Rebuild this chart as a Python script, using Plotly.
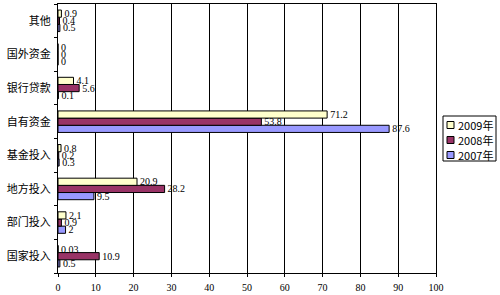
import plotly.graph_objects as go

categories = ["国家投入", "部门投入", "地方投入", "基金投入", "自有资金", "银行贷款", "国外资金", "其他"]
v2009 = [0.03, 2.1, 20.9, 0.8, 71.2, 4.1, 0, 0.9]
v2008 = [10.9, 0.9, 28.2, 0.2, 53.8, 5.6, 0, 0.4]
v2007 = [0.5, 2, 9.5, 0.3, 87.6, 0.1, 0, 0.5]
x_ticks = [0, 10, 20, 30, 40, 50, 60, 70, 80, 90, 100]

series = [
    ("2007年", v2007, "#9999FF"),
    ("2008年", v2008, "#993366"),
    ("2009年", v2009, "#FFFFCC"),
]

fig = go.Figure()
for name, vals, col in series:
    fig.add_trace(go.Bar(
        y=categories, x=vals, name=name, orientation="h",
        marker=dict(color=col, line=dict(color="black", width=1)),
        text=[str(v) for v in vals], textposition="outside",
        constraintext="none",
        textfont=dict(family="Liberation Serif", size=10, color="black"),
        cliponaxis=False,
    ))

# manual legend (paper coords) so the plot area keeps its width
L, R, T, B = 58, 436, 4, 273
W, H = 500, 295
def px(x): return (x - L) / (R - L)
def py(y): return (B - y) / (B - T)

fig.add_shape(type="rect", xref="paper", yref="paper",
              x0=px(443), x1=px(496), y0=py(161), y1=py(116),
              line=dict(color="black", width=1), fillcolor="white")
for i, (name, vals, col) in enumerate(reversed(series)):
    yc = 125 + i * 15
    fig.add_shape(type="rect", xref="paper", yref="paper",
                  x0=px(447), x1=px(454), y0=py(yc + 3.5), y1=py(yc - 3.5),
                  line=dict(color="black", width=1), fillcolor=col)
    fig.add_annotation(xref="paper", yref="paper", x=px(456), y=py(yc),
                       xanchor="left", yanchor="middle", showarrow=False,
                       text=name, font=dict(family="Noto Sans CJK SC", size=11, color="black"))

fig.update_layout(
    width=W, height=H,
    margin=dict(l=L, r=W - R, t=T, b=H - B, autoexpand=False),
    barmode="group", bargap=0.36, bargroupgap=0,
    plot_bgcolor="white", paper_bgcolor="white",
    font=dict(family="Noto Sans CJK SC", size=10, color="black"),
    showlegend=False,
)
fig.update_xaxes(
    range=[0, 100], tickvals=x_ticks, showgrid=True, gridcolor="black", gridwidth=1,
    showline=True, linecolor="black", mirror=True, zeroline=False,
    ticks="outside", ticklen=3, tickcolor="black",
    tickfont=dict(family="Liberation Serif", size=10),
    ticklabelstandoff=2,
)
fig.update_yaxes(
    showline=True, linecolor="black", mirror=True,
    ticks="outside", tickson="boundaries", ticklen=3, tickcolor="black",
    tickfont=dict(family="Noto Sans CJK SC", size=11),
    ticklabelstandoff=4,
)
fig.write_html("out.html")
